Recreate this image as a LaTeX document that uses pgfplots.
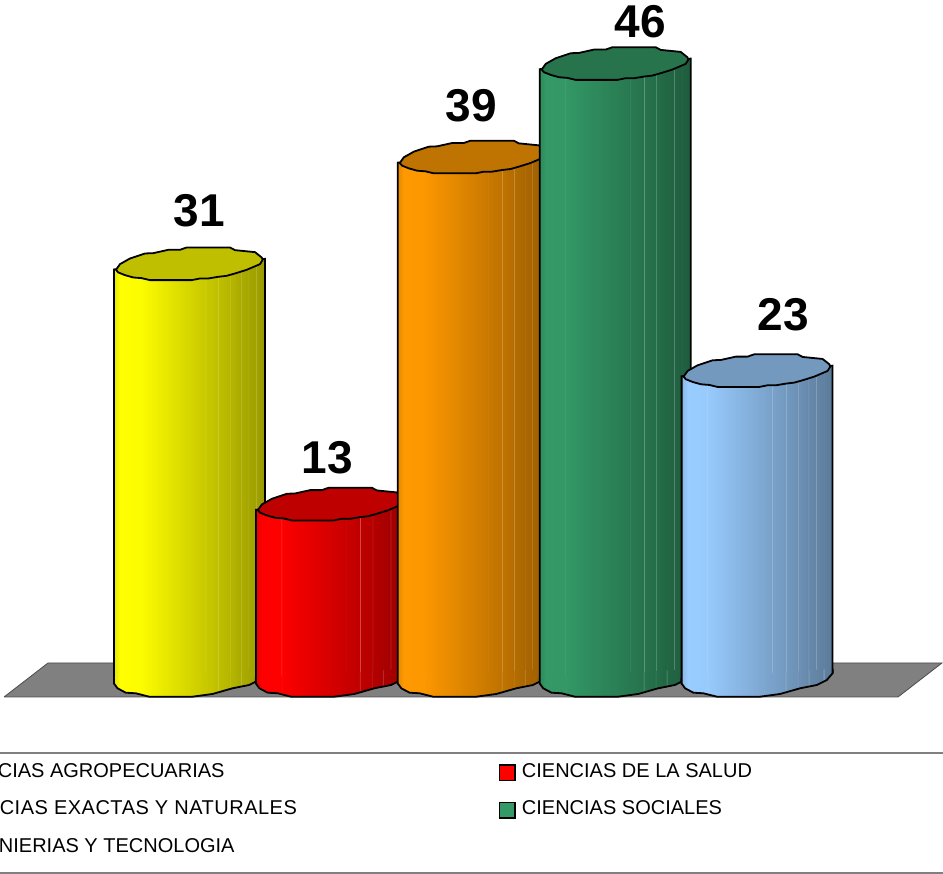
\documentclass[border=0pt]{standalone}
\usepackage{fontspec}
\setmainfont{Liberation Sans}
\usepackage{pgfplots}
\pgfplotsset{compat=1.18}

\definecolor{cyla}{HTML}{FFFF00}
\definecolor{cylb}{HTML}{FF0000}
\definecolor{cylc}{HTML}{FF9900}
\definecolor{cyld}{HTML}{339966}
\definecolor{cyle}{HTML}{99CCFF}
\definecolor{floorgray}{HTML}{808080}

% body of a cylinder: bright on the left, darker to the right, thin light stripes
\newcommand{\cylshading}[2]{%
\pgfdeclarehorizontalshading{#1}{100bp}{%
color(0bp)=(#2!90!black); color(25bp)=(#2!90!black); color(27bp)=(#2); color(33.38bp)=(#2!99!black);
color(33.5bp)=(#2!99!black!65!white); color(33.62bp)=(#2!99!black);
color(54.88bp)=(#2!79!black); color(55bp)=(#2!79!black!65!white); color(55.12bp)=(#2!79!black);
color(59.38bp)=(#2!75!black); color(59.5bp)=(#2!75!black!65!white); color(59.62bp)=(#2!75!black);
color(63.38bp)=(#2!71!black); color(63.5bp)=(#2!71!black!70!white); color(63.62bp)=(#2!71!black);
color(66.88bp)=(#2!67!black); color(67bp)=(#2!67!black!70!white); color(67.12bp)=(#2!67!black);
color(69.38bp)=(#2!65!black); color(69.5bp)=(#2!65!black!70!white); color(69.62bp)=(#2!65!black);
color(71.88bp)=(#2!63!black); color(72bp)=(#2!63!black!70!white); color(72.12bp)=(#2!63!black);
color(75bp)=(#2!60!black); color(100bp)=(#2!60!black)}}
\cylshading{shadea}{cyla}
\cylshading{shadeb}{cylb}
\cylshading{shadec}{cylc}
\cylshading{shaded}{cyld}
\cylshading{shadee}{cyle}

\newcommand{\toppath}{(-73.5,-5.67) -- (-69.5,0) -- (-59.5,5.67) -- (-44.5,10.67) -- (-36.2,11) -- (-21.2,14.33) -- (-9.5,14.33) -- (-2.8,16.67) -- (40.5,16.67) -- (45.5,14) -- (55.5,13) -- (65.5,12) -- (72.2,6.67) -- (73.2,4.33) -- (70.5,0) -- (57.2,-5.67) -- (45.5,-9.33) -- (37.2,-11.67) -- (28.8,-12.67) -- (18.8,-14.33) -- (10.5,-14.33) -- (2.2,-16) -- (-39.5,-16) -- (-47.8,-14) -- (-56.2,-13.33) -- (-64.5,-11) -- (-71.2,-8.33) -- cycle}
\newcommand{\botpath}{(-75.5,0) -- (-75.5,-5.5) -- (-72,-10.3) -- (-63.7,-14.7) -- (-53.7,-15.3) -- (-40.3,-18.7) -- (3,-18.7) -- (23,-16) -- (43,-10.3) -- (59.7,-7) -- (69.7,-2) -- (75.5,4.7) -- (75.5,9)}
% end caps of a cylinder, one pair for each series
\newcommand{\cylmarks}[3]{%
\pgfdeclareplotmark{cyltop#1}{\path[x=1pt,y=1pt,fill=#2!75!black,draw=black,line width=1.8pt,line join=round] \toppath;}%
\pgfdeclareplotmark{cylbot#1}{%
\path[x=1pt,y=1pt,draw=none,shade,shading=#3] \botpath -- cycle;
\path[x=1pt,y=1pt,fill=none,draw=black,line width=1.8pt,line join=round] \botpath;}}
\cylmarks{a}{cyla}{shadea}
\cylmarks{b}{cylb}{shadeb}
\cylmarks{c}{cylc}{shadec}
\cylmarks{d}{cyld}{shaded}
\cylmarks{e}{cyle}{shadee}

\pgfplotsset{
  cylbody/.style={ybar, bar shift=0pt, bar width=1.064, shade, draw=black, line width=1.8pt, forget plot},
  valuelabel/.style 2 args={only marks, nodes near coords,
    nodes near coords style={font=\fontsize{46}{50}\selectfont\bfseries, text=black, anchor=center, xshift=#1pt, yshift=#2pt}},
  key/.style={legend image code/.code={\draw[fill=#1,draw=black,line width=1.5pt] (0pt,-9.5pt) rectangle (15.5pt,6pt);}}
}

\begin{document}
\begin{tikzpicture}
\clip (0pt,0pt) rectangle (943pt,874pt);
\begin{axis}[
    scale only axis,
    width=943pt, height=874pt,
    at={(0pt,0pt)}, anchor=south west,
    xmin=-1.3354, xmax=5.3101,
    ymin=-14.682, ymax=50.787,
    hide axis,
    clip=false,
    clip marker paths=true,
    /pgf/number format/assume math mode=true,
    legend cell align=left,
    legend style={
        at={(axis description cs:-0.0795,0.1288)}, anchor=north west,
        draw=none, fill=none, inner sep=0pt, outer sep=0pt,
        font=\fontsize{20}{24}\selectfont,
        legend columns=2, row sep=17.5pt,
        /tikz/column 1/.style={column sep=6pt},
        /tikz/column 2/.style={column sep=200pt},
        /tikz/column 3/.style={column sep=4pt},
    },
]
% floor
\addplot[fill=floorgray, draw=black!70, line width=0.8pt, forget plot] coordinates {
    (-1.307,-1.423) (-0.997,1.124) (5.303,1.124) (4.993,-1.423) (-1.307,-1.423)};

% CIENCIAS AGROPECUARIAS
\addplot[cylbody, shading=shadea, cm={1,0.07,0,1,(0pt,-13.265pt)}] coordinates {(0,31)};
\addplot[only marks, mark=cylbota, key=cyla] coordinates {(0,0)};
\addlegendentry{CIENCIAS AGROPECUARIAS}
\addplot[valuelabel={10}{53}, mark=cyltopa, forget plot] coordinates {(0,31)};

% CIENCIAS DE LA SALUD
\addplot[cylbody, shading=shadeb, cm={1,0.07,0,1,(0pt,-23.198pt)}] coordinates {(1,13)};
\addplot[only marks, mark=cylbotb, key=cylb] coordinates {(1,0)};
\addlegendentry{CIENCIAS DE LA SALUD}
\addplot[valuelabel={-4}{47}, mark=cyltopb, forget plot] coordinates {(1,13)};

% CIENCIAS EXACTAS Y NATURALES
\addplot[cylbody, shading=shadec, cm={1,0.07,0,1,(0pt,-33.131pt)}] coordinates {(2,39)};
\addplot[only marks, mark=cylbotc, key=cylc] coordinates {(2,0)};
\addlegendentry{\addfontfeature{LetterSpace=2.5}CIENCIAS EXACTAS Y NATURALES}
\addplot[valuelabel={-2}{52}, mark=cyltopc, forget plot] coordinates {(2,39)};

% CIENCIAS SOCIALES
\addplot[cylbody, shading=shaded, cm={1,0.07,0,1,(0pt,-43.064pt)}] coordinates {(3,46)};
\addplot[only marks, mark=cylbotd, key=cyld] coordinates {(3,0)};
\addlegendentry{CIENCIAS SOCIALES}
\addplot[valuelabel={25}{42}, mark=cyltopd, forget plot] coordinates {(3,46)};

% INGENIERIAS Y TECNOLOGIA
\addplot[cylbody, shading=shadee, cm={1,0.07,0,1,(0pt,-52.997pt)}] coordinates {(4,23)};
\addplot[only marks, mark=cylbote, key=cyle] coordinates {(4,0)};
\addlegendentry{INGENIERIAS Y TECNOLOGIA}
\addplot[valuelabel={26}{56}, mark=cyltope, forget plot] coordinates {(4,23)};
\end{axis}
\draw[floorgray, line width=2pt] (0pt,121pt) -- (943pt,121pt);
\draw[floorgray, line width=2pt] (0pt,1pt) -- (943pt,1pt);
\end{tikzpicture}
\end{document}
